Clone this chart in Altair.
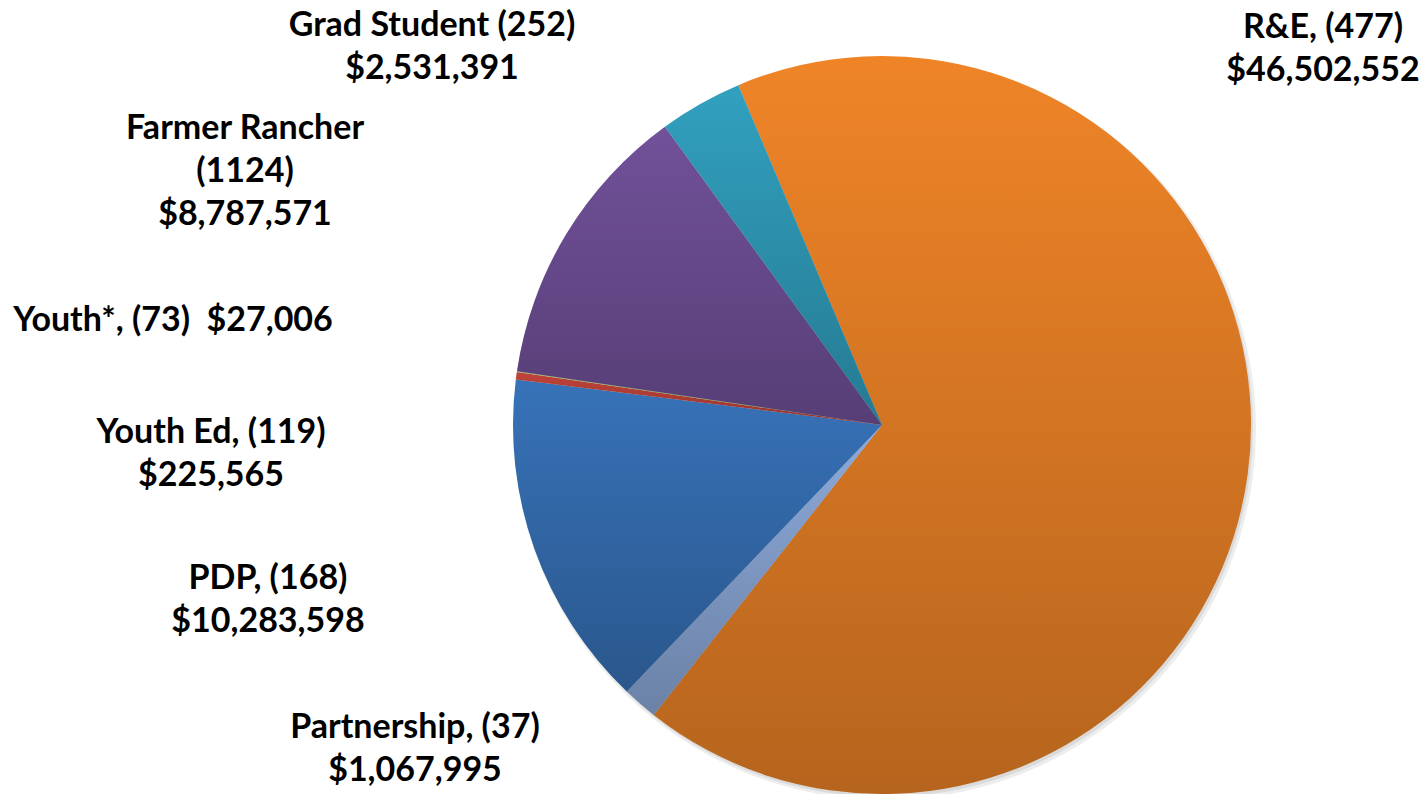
import altair as alt
import pandas as pd

categories = ["R&E", "Partnership", "PDP", "Youth Ed", "Youth*", "Farmer Rancher", "Grad Student"]
counts = [477, 37, 168, 119, 73, 1124, 252]
amounts = [46502552, 1067995, 10283598, 225565, 27006, 8787571, 2531391]
colors = ["#EF8427", "#8DAADA", "#3772B8", "#C0433A", "#9BBB59", "#71519A", "#31A0BF"]

labels = [
    "R&E, (477)\n$46,502,552",
    "Partnership, (37)\n$1,067,995",
    "PDP, (168)\n$10,283,598",
    "Youth Ed, (119)\n$225,565",
    "Youth*, (73)\u00a0 $27,006",
    "Farmer Rancher\n(1124)\n$8,787,571",
    "Grad Student (252)\n$2,531,391",
]
# label layout (pixel anchors of first line)
label_x = [1323, 415, 268, 211, 173, 245, 432]
label_y = [28, 728, 579, 433, 321, 129, 26]

df = pd.DataFrame({
    "category": categories,
    "count": counts,
    "amount": amounts,
    "order": list(range(len(categories))),
})
lab = pd.DataFrame({"text": labels, "x": label_x, "y": label_y})

CX, CY, R = 882, 425, 369
start = -0.40
theta_scale = alt.Scale(range=[6.283185 + start, 12.566371 + start])

theta = alt.Theta("amount:Q", stack=True, scale=theta_scale)
order = alt.Order("order:Q")

base = alt.Chart(df)

shadow = base.mark_arc(outerRadius=R + 2, color="#000000", opacity=0.07).encode(
    theta=theta, order=order, x=alt.value(CX + 3), y=alt.value(CY + 4)
)
shadow2 = base.mark_arc(outerRadius=R, color="#000000", opacity=0.08).encode(
    theta=theta, order=order, x=alt.value(CX + 2), y=alt.value(CY + 3)
)

pie = base.mark_arc(outerRadius=R, strokeWidth=0).encode(
    theta=theta,
    order=order,
    color=alt.Color("category:N", scale=alt.Scale(domain=categories, range=colors), legend=None),
    x=alt.value(CX),
    y=alt.value(CY),
)

shade = base.mark_arc(
    outerRadius=R,
    strokeWidth=0,
    fill={
        "gradient": "linear",
        "x1": 0, "y1": 0, "x2": 0, "y2": 1,
        "stops": [
            {"offset": 0, "color": "rgba(0,0,0,0)"},
            {"offset": 1, "color": "rgba(0,0,0,0.24)"},
        ],
    },
).encode(theta=theta, order=order, x=alt.value(CX), y=alt.value(CY))

text = alt.Chart(lab).mark_text(
    font="Lato", fontWeight="bold", fontSize=34, color="#000000",
    align="center", baseline="middle", lineBreak="\n", lineHeight=43,
).encode(
    x=alt.X("x:Q", scale=None),
    y=alt.Y("y:Q", scale=None),
    text="text:N",
)

chart = alt.layer(shadow, shadow2, pie, shade, text).properties(
    width=1421, height=794, padding=0, autosize=alt.AutoSizeParams(type="none")
).configure_view(stroke=None)

chart.save("out.html", embed_options={"renderer": "svg", "actions": False})
